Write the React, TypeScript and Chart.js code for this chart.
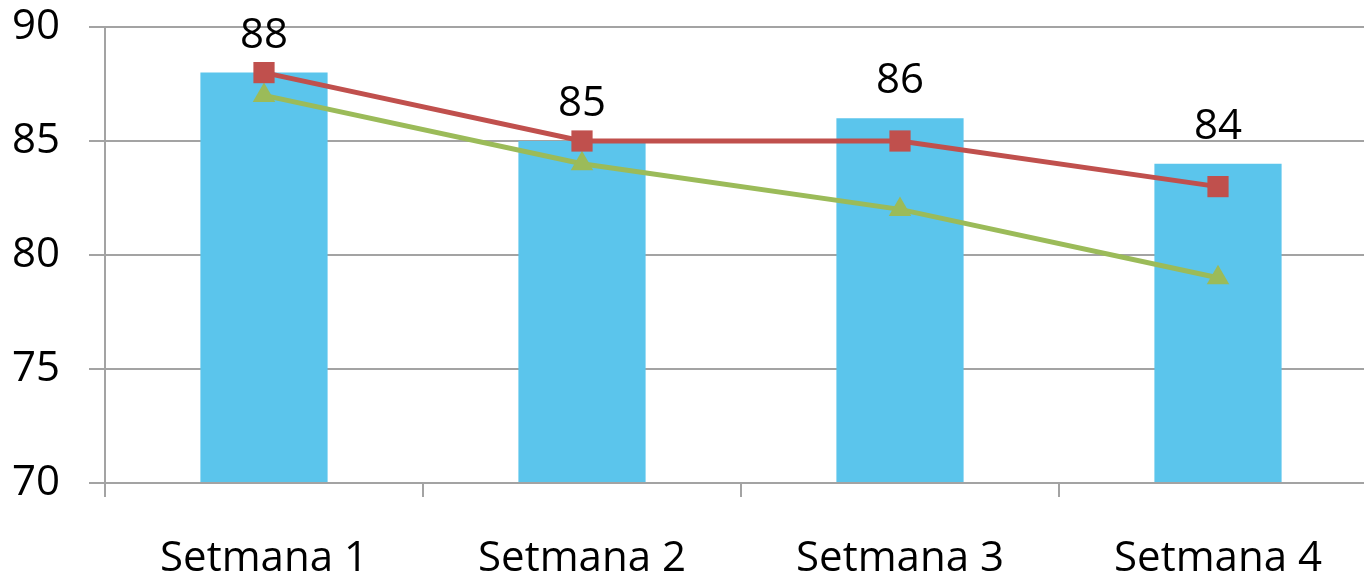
import React, { useEffect, useRef } from "react";
import { Chart, registerables } from "chart.js";

Chart.register(...registerables);

const categories = ["Setmana 1", "Setmana 2", "Setmana 3", "Setmana 4"];
const barValues = [88, 85, 86, 84];
const redValues = [88, 85, 85, 83];
const greenValues = [87, 84, 82, 79];
const yMin = 70;
const yMax = 90;
const yStep = 5;

const FONT = "'Open Sans', 'Noto Sans', sans-serif";
const GRID = "#a3a3a3";

const barLabels = {
  id: "barLabels",
  afterDatasetsDraw(chart: any) {
    const meta = chart.getDatasetMeta(0);
    const ctx = chart.ctx;
    ctx.save();
    ctx.font = `42px ${FONT}`;
    ctx.fillStyle = "#000";
    ctx.textAlign = "center";
    ctx.textBaseline = "alphabetic";
    meta.data.forEach((el: any, i: number) => {
      ctx.fillText(String(barValues[i]), el.x, el.y - 25);
    });
    ctx.restore();
  },
};

export default function App() {
  const ref = useRef<HTMLCanvasElement>(null);
  useEffect(() => {
    if (!ref.current) return;
    const chart = new Chart(ref.current, {
      type: "bar",
      data: {
        labels: categories,
        datasets: [
          {
            type: "bar",
            data: barValues,
            backgroundColor: "#5BC5EC",
            borderWidth: 0,
            categoryPercentage: 1,
            barPercentage: 0.4,
            order: 3,
            base: yMin,
          } as any,
          {
            type: "line",
            data: greenValues,
            borderColor: "#9BBB59",
            backgroundColor: "#9BBB59",
            borderWidth: 5,
            pointStyle: "triangle",
            pointRadius: 13,
            pointBorderWidth: 0,
            tension: 0,
            order: 2,
            clip: false,
          } as any,
          {
            type: "line",
            data: redValues,
            borderColor: "#C0504D",
            backgroundColor: "#C0504D",
            borderWidth: 5,
            pointStyle: "rect",
            pointRadius: 15,
            pointBorderWidth: 0,
            tension: 0,
            order: 1,
            clip: false,
          } as any,
        ],
      },
      options: {
        animation: false,
        responsive: false,
        devicePixelRatio: 1,
        layout: { autoPadding: false, padding: { top: 27, right: 15, left: 0, bottom: 0 } },
        plugins: { legend: { display: false }, tooltip: { enabled: false } },
        scales: {
          x: {
            offset: true,
            grid: {
              offset: true,
              drawOnChartArea: false,
              drawTicks: true,
              tickLength: 14,
              color: GRID,
              lineWidth: 2,
            },
            border: { display: true, color: GRID, width: 2 },
            ticks: {
              color: "#000",
              font: { family: FONT, size: 42, lineHeight: 1.2 },
              padding: 37,
              maxRotation: 0,
            },
            afterFit(scale: any) {
              scale.height = 93;
              scale.paddingLeft = 0;
              scale.paddingRight = 0;
            },
          },
          y: {
            min: yMin,
            max: yMax,
            grid: { color: GRID, lineWidth: 2, tickLength: 16, drawTicks: true },
            border: { display: true, color: GRID, width: 2 },
            ticks: {
              stepSize: yStep,
              color: "#000",
              font: { family: FONT, size: 42, lineHeight: 1 },
              padding: 29,
            },
            afterFit(scale: any) {
              scale.width = 105;
              scale.paddingTop = 0;
              scale.paddingBottom = 0;
            },
          },
        },
      } as any,
      plugins: [barLabels],
    });
    return () => chart.destroy();
  }, []);
  return (
    <div
      style={{
        position: "fixed",
        left: 0,
        top: 0,
        width: 1364,
        height: 576,
        overflow: "hidden",
        background: "#fff",
      }}
    >
      <canvas ref={ref} width={1392} height={576} style={{ display: "block" }} />
    </div>
  );
}
